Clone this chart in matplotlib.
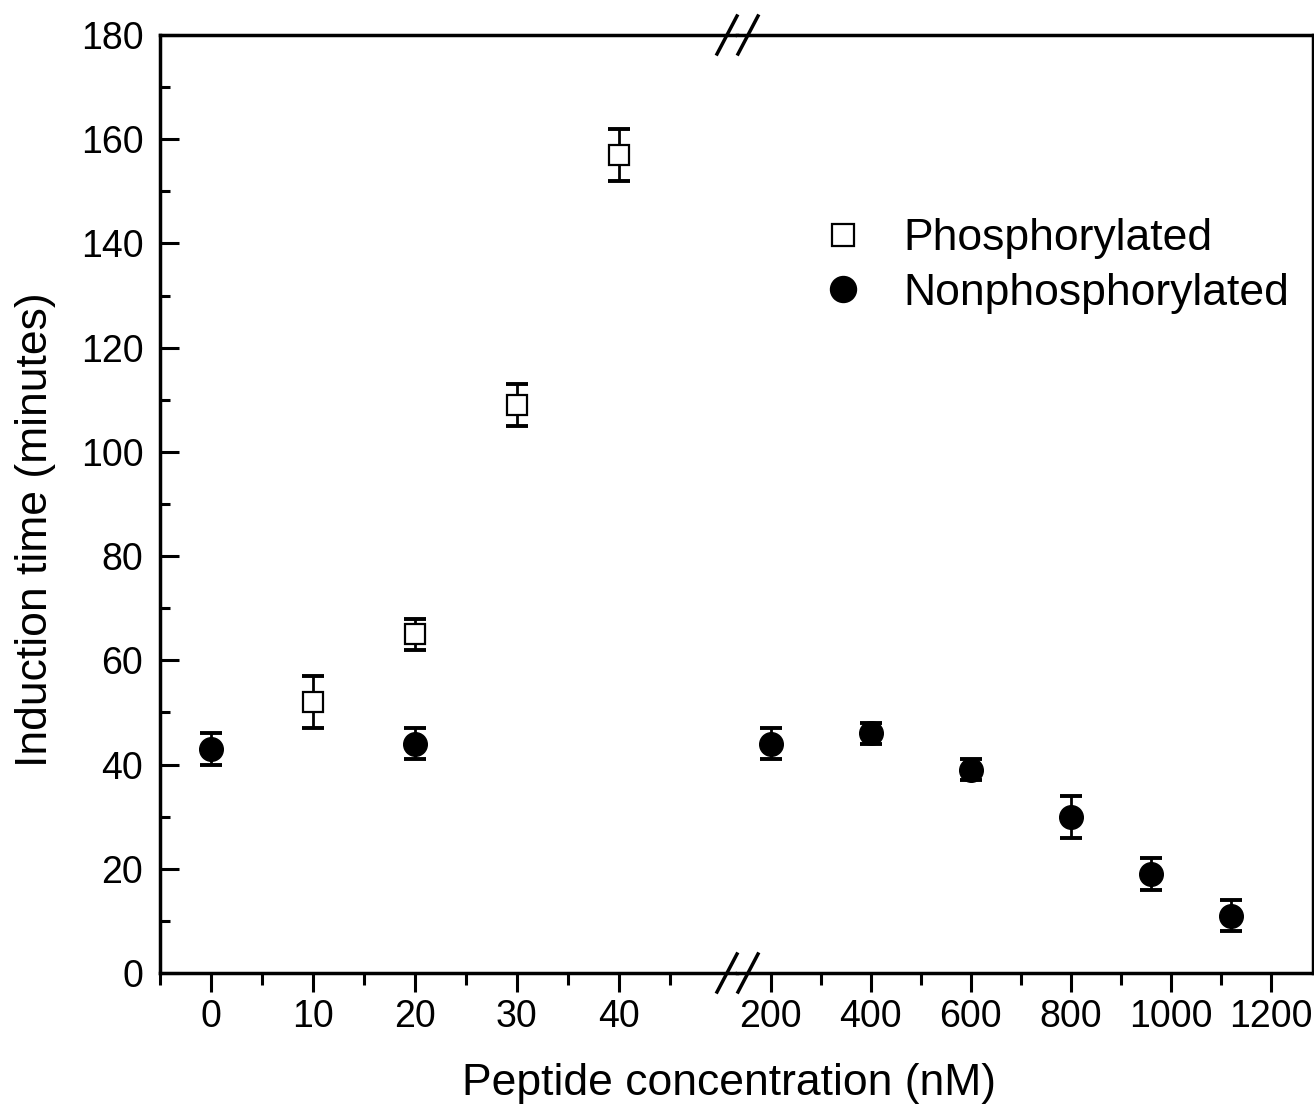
import matplotlib
matplotlib.use('Agg')
import matplotlib.pyplot as plt
from matplotlib.ticker import MultipleLocator, FixedLocator
from matplotlib.lines import Line2D

# data (x in nM, y in minutes)
phos_x = [10, 20, 30, 40]
phos_y = [52, 65, 109, 157]
phos_err = [5, 3, 4, 5]

nonphos_x = [0, 20, 200, 400, 600, 800, 960, 1120]
nonphos_y = [43, 44, 44, 46, 39, 30, 19, 11]
nonphos_err = [3, 3, 3, 2, 2, 4, 3, 3]

left_ticks = [0, 10, 20, 30, 40]
right_ticks = [200, 400, 600, 800, 1000, 1200]

plt.rcParams['font.family'] = ['Liberation Sans', 'DejaVu Sans']

W, H = 1314, 1115
fig = plt.figure(figsize=(W / 100, H / 100), dpi=100)
bottom = 1 - 973 / H
height = (973 - 35) / H
ax1 = fig.add_axes([160 / W, bottom, 577 / W, height])
ax2 = fig.add_axes([737 / W, bottom, 576 / W, height], sharey=ax1)

sq_style = dict(marker='s', markersize=14, markerfacecolor='white',
                markeredgecolor='black', markeredgewidth=1.6, linestyle='none', zorder=4)
ci_style = dict(marker='o', markersize=17, markerfacecolor='black',
                markeredgecolor='black', linestyle='none', zorder=4)
err_style = dict(fmt='none', ecolor='black', elinewidth=2, capsize=8, capthick=2.8, zorder=3)

for ax in (ax1, ax2):
    if ax is ax1:
        keep = lambda v: v < 100
    else:
        keep = lambda v: v >= 100
    px = [x for x in phos_x if keep(x)]
    py = [y for x, y in zip(phos_x, phos_y) if keep(x)]
    pe = [e for x, e in zip(phos_x, phos_err) if keep(x)]
    nx = [x for x in nonphos_x if keep(x)]
    ny = [y for x, y in zip(nonphos_x, nonphos_y) if keep(x)]
    ne = [e for x, e in zip(nonphos_x, nonphos_err) if keep(x)]
    if px:
        ax.errorbar(px, py, yerr=pe, **err_style)
        ax.plot(px, py, **sq_style)
    if nx:
        ax.errorbar(nx, ny, yerr=ne, **err_style)
        ax.plot(nx, ny, **ci_style)
    for s in ax.spines.values():
        s.set_linewidth(2.5)

ax1.set_xlim(-5, 51.6)
ax2.set_xlim(133, 1285)
ax1.set_ylim(0, 180)

ax1.spines['right'].set_visible(False)
ax2.spines['left'].set_visible(False)

ax1.xaxis.set_major_locator(FixedLocator(left_ticks))
ax1.xaxis.set_minor_locator(FixedLocator([-5, 5, 15, 25, 35, 45]))
ax2.xaxis.set_major_locator(FixedLocator(right_ticks))
ax2.xaxis.set_minor_locator(FixedLocator([300, 500, 700, 900, 1100]))
ax1.yaxis.set_major_locator(MultipleLocator(20))
ax1.yaxis.set_minor_locator(MultipleLocator(10))

for ax in (ax1, ax2):
    ax.tick_params(axis='x', which='major', direction='out', length=14, width=2.2,
                   labelsize=27, pad=5, top=False)
    ax.tick_params(axis='x', which='minor', direction='out', length=8.5, width=2.2, top=False)
ax1.tick_params(axis='y', which='major', direction='in', length=14, width=2.2,
                labelsize=27, pad=12, right=False)
ax1.tick_params(axis='y', which='minor', direction='in', length=7.5, width=2.2, right=False)
ax2.tick_params(axis='y', which='both', left=False, right=False, labelleft=False)

# axis break marks
for yc in (973, 35):
    for xc in (727, 748):
        fig.add_artist(Line2D([(xc - 10) / W, (xc + 10) / W],
                              [1 - (yc + 19) / H, 1 - (yc - 19) / H],
                              transform=fig.transFigure, color='black', lw=2.5))

fig.text(729 / W, 1 - 1083 / H, 'Peptide concentration (nM)', fontsize=32,
         ha='center', va='center')
fig.text(36 / W, 1 - 530 / H, 'Induction time (minutes)', fontsize=32,
         ha='center', va='center', rotation=90)

handles = [Line2D([], [], **sq_style), Line2D([], [], **ci_style)]
fig.legend(handles, ['Phosphorylated', 'Nonphosphorylated'], loc='center left',
           bbox_to_anchor=(821 / W, 1 - 266 / H), frameon=False, fontsize=32,
           markerscale=1.1, handlelength=1.0, handletextpad=0.85, labelspacing=0.3,
           borderaxespad=0, borderpad=0)

fig.savefig('out.png', dpi=100)
